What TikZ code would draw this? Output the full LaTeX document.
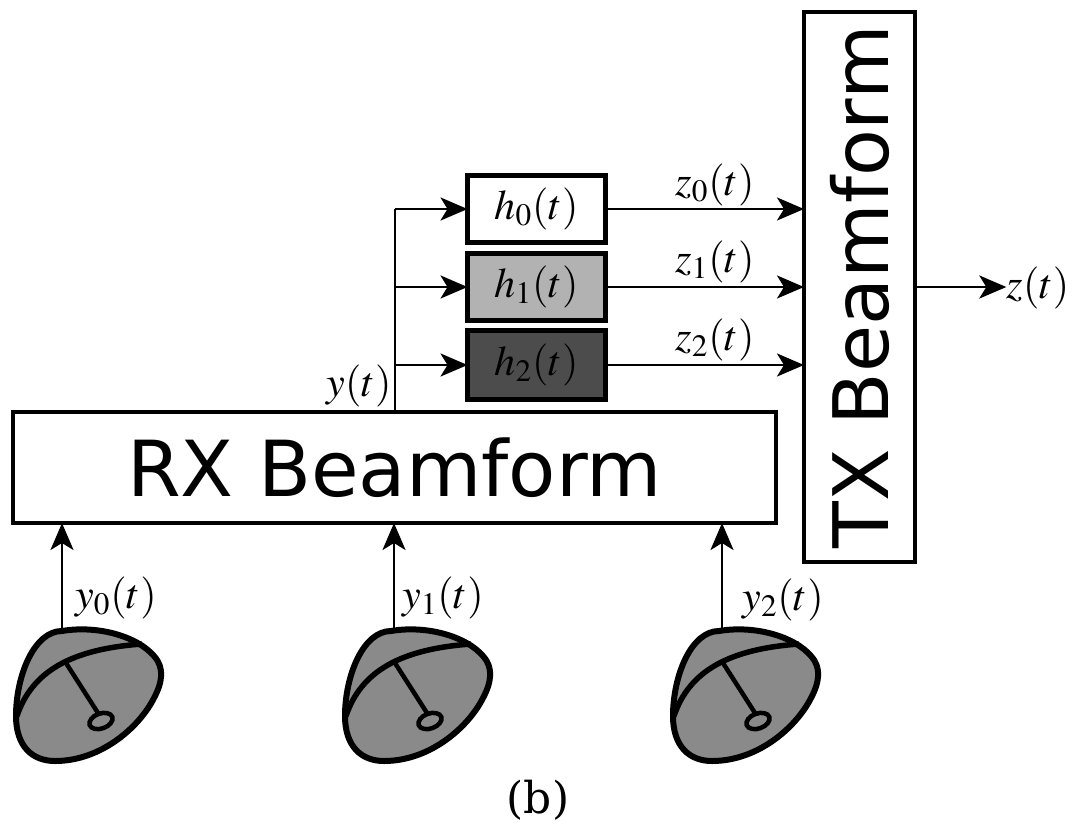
\documentclass[tikz,border=0pt]{standalone}
\usepackage{mathptmx}
\usepackage[no-math]{fontspec}
\setsansfont{DejaVu Sans}
\newfontfamily\capfont{DejaVu Serif}
\usetikzlibrary{arrows.meta}
\def\pxu{0.02cm}
\tikzstyle{arrow} = [line width=2.7*\pxu,-{Stealth[length=27*\pxu,width=23*\pxu,inset=7*\pxu]}]
\tikzstyle{wire} = [line width=2.7*\pxu]
\tikzstyle{beam} = [draw=black, line width=4.5*\pxu, fill=white, inner sep=0pt, outer sep=0pt, font=\sffamily\fontsize{43.6}{44}\selectfont]
\tikzstyle{filt} = [draw=black, line width=5*\pxu, inner sep=0pt, outer sep=0pt, minimum width=138*\pxu, font=\fontsize{24}{24}\selectfont]
\tikzstyle{sig} = [inner sep=0pt, font=\fontsize{24}{24}\selectfont]
\definecolor{dishgray}{HTML}{8A8A8A}
\tikzset{dish/.pic={
	\draw[line width=6*\pxu,fill=dishgray,line join=round] (-46,85) .. controls (-46,45) and (-28,0) .. (0,0) .. controls (35,-6) and (75,5) .. (92,25) .. controls (103,37) and (100,52) .. (92,67) .. controls (78,95) and (40,130) .. (-7,130) .. controls (-30,130) and (-46,115) .. (-46,85) -- cycle;
	\draw[line width=5.5*\pxu] (-45,85) .. controls (-30,40) and (10,18) .. (80,13);
	\draw[line width=4.5*\pxu] (4,32) -- (36,82);
	\draw[line width=4.5*\pxu,fill=dishgray,rotate around={20:(39,90)}] (39,90) ellipse (12 and 7.5);
}}
\begin{document}
\begin{tikzpicture}[x=\pxu,y=-\pxu]
	\useasboundingbox (0,0) rectangle (1074,825);
	% beamformers
	\node[beam,font=\sffamily\fontsize{44}{44}\selectfont,minimum width=763*\pxu,minimum height=111*\pxu] (rx) at (394.5,467.5) {RX Beamform};
	\node[beam,rotate=90,minimum width=550*\pxu,minimum height=111*\pxu] (tx) at (859.5,287) {TX Beamform};
	% filters
	\node[filt,fill=white,minimum height=67*\pxu] (h0) at (536.5,209) {$h_0(t)$};
	\node[filt,fill=black!30,minimum height=67*\pxu] (h1) at (536.5,287) {$h_1(t)$};
	\node[filt,fill=black!70,minimum height=69*\pxu] (h2) at (536.5,365) {$h_2(t)$};
	% antennas
	\coordinate (a0) at (62,631);
	\coordinate (a1) at (394,631);
	\coordinate (a2) at (722,631);
	\pic at (a0) {dish};
	\pic at ([xshift=-3*\pxu]a1) {dish};
	\pic at ([xshift=-3*\pxu]a2) {dish};
	\draw[arrow] (a0) -- (a0|-rx.south);
	\draw[arrow] (a1) -- (a1|-rx.south);
	\draw[arrow] (a2) -- (a2|-rx.south);
	\node[sig] (y0) at (116,598) {$y_0(t)$};
	\node[sig] (y1) at (443,598) {$y_1(t)$};
	\node[sig] (y2) at (783,600) {$y_2(t)$};
	% split
	\coordinate (split) at (395,209);
	\draw[wire] (split|-rx.north) -- (split);
	\draw[arrow] (split) -- (h0.west);
	\draw[arrow] (split|-h1.west) -- (h1.west);
	\draw[arrow] (split|-h2.west) -- (h2.west);
	\node[sig] (y) at (359,386) {$y(t)$};
	% outputs
	\draw[arrow] (h0.east) -- (h0.east-|tx.north);
	\draw[arrow] (h1.east) -- (h1.east-|tx.north);
	\draw[arrow] (h2.east) -- (h2.east-|tx.north);
	\node[sig] (z0) at (715,185) {$z_0(t)$};
	\node[sig] (z1) at (715,262) {$z_1(t)$};
	\node[sig] (z2) at (715,340) {$z_2(t)$};
	\node[sig] (z) at (1038,288) {$z(t)$};
	\draw[arrow] (tx.south) -- (tx.south-|z.west);
	\node[inner sep=0pt,font=\capfont\fontsize{25}{25}\selectfont] (b) at (538,800) {(b)};
\end{tikzpicture}
\end{document}
